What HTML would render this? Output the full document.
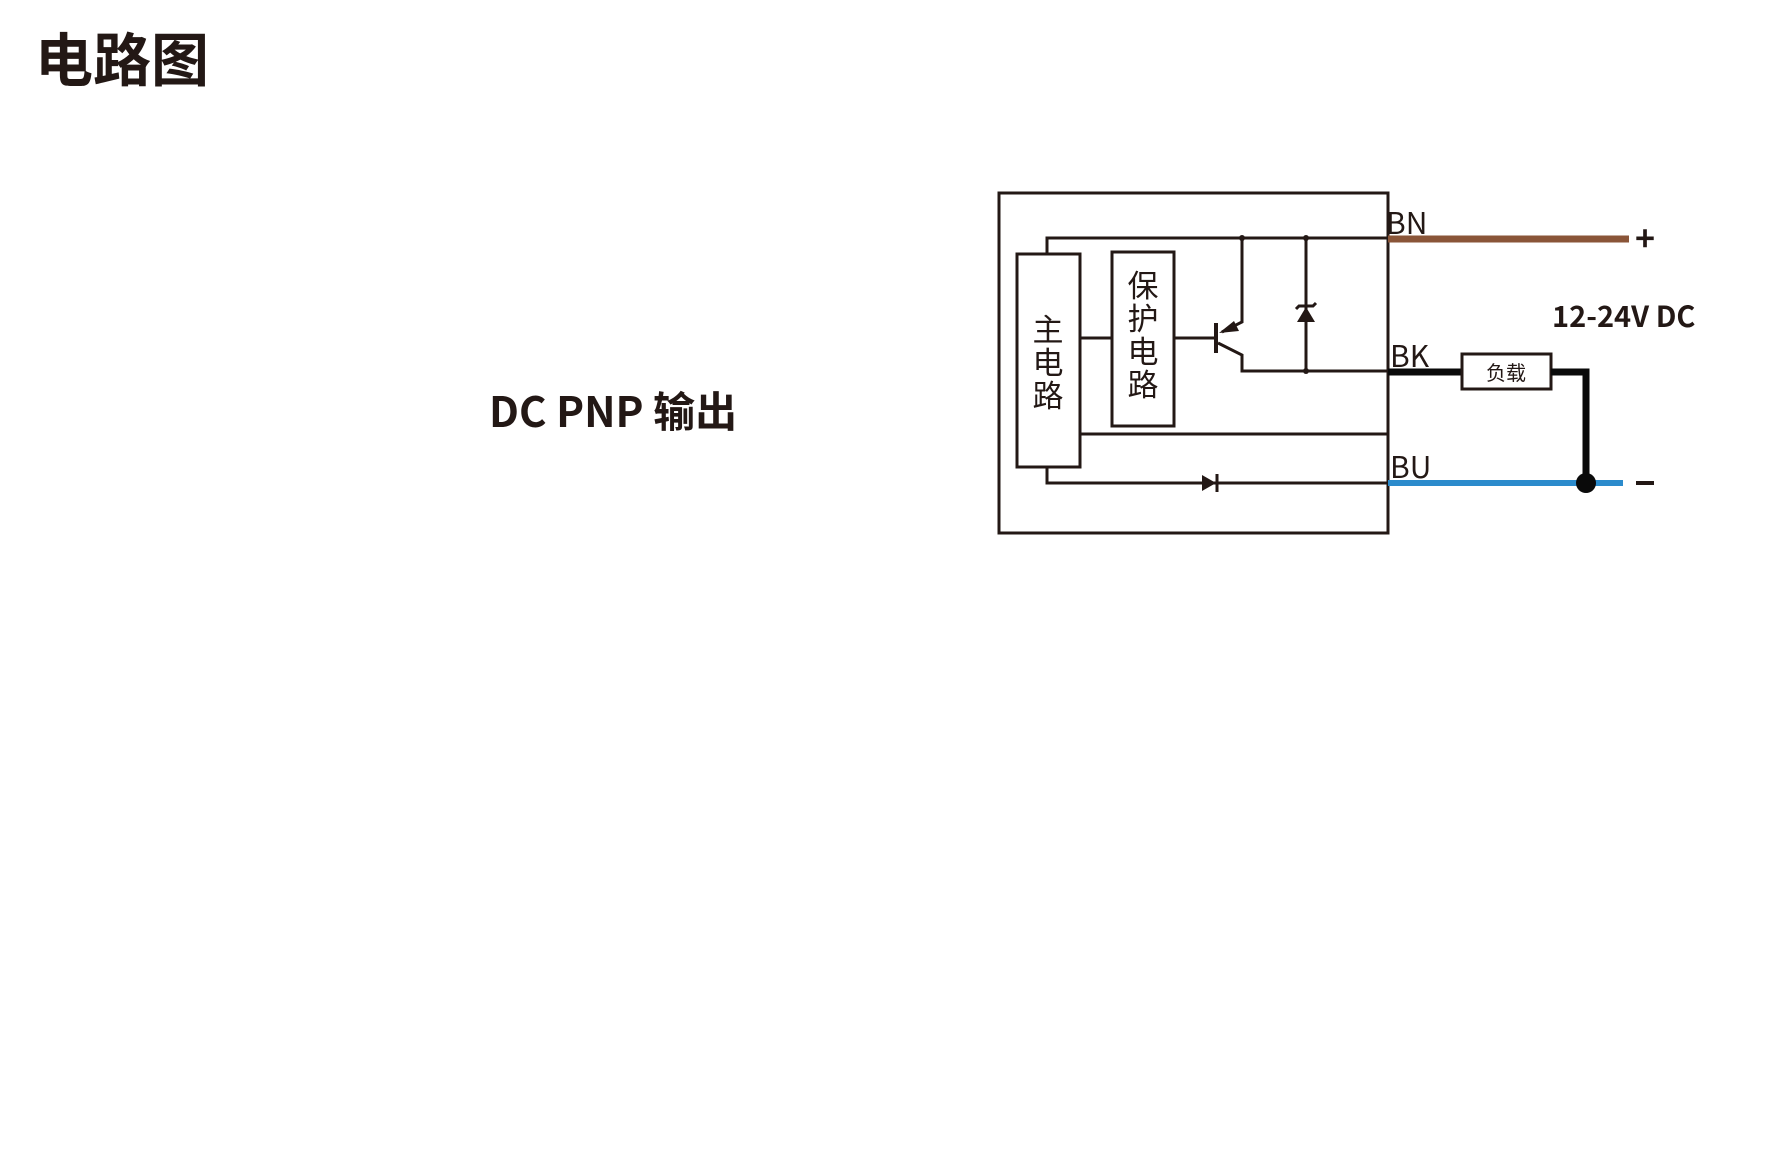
<!DOCTYPE html>
<html><head><meta charset="utf-8"><style>
html,body{margin:0;padding:0;background:#fff;}
svg{display:block;}
text{font-family:"Noto Sans CJK SC","Liberation Sans",sans-serif;fill:#231815;}
</style></head><body>
<svg width="1792" height="1154" viewBox="0 0 1792 1154" xmlns="http://www.w3.org/2000/svg">
<text x="35" y="81" font-size="58" font-weight="bold">电路图</text>
<text x="489" y="427" font-size="42" font-weight="bold">DC PNP 输出</text>

<g stroke="#231815" stroke-width="3" fill="none">
<rect x="999" y="193" width="389" height="340"/>
<rect x="1017" y="254" width="63" height="213"/>
<rect x="1112" y="252" width="62" height="174"/>
<polyline points="1047,254 1047,238 1388,238"/>
<line x1="1080" y1="338" x2="1112" y2="338"/>
<line x1="1174" y1="338" x2="1216" y2="338"/>
<line x1="1216" y1="323" x2="1216" y2="353" stroke-width="4"/>
<polyline points="1242,238 1242,322 1222,332"/>
<polyline points="1218,343 1242,355 1242,371 1388,371"/>
<line x1="1306" y1="238" x2="1306" y2="371"/>
<polyline points="1296,309 1299,306 1313,306 1316,303"/>
<line x1="1080" y1="434" x2="1388" y2="434"/>
<polyline points="1047,467 1047,483 1388,483"/>
<line x1="1217" y1="474" x2="1217" y2="492" stroke-width="3"/>
</g>
<polygon points="1219,333 1234,321 1239,331" fill="#231815"/>
<polygon points="1306,307 1297,322 1315,322" fill="#231815"/>
<polygon points="1202,475 1202,491 1216,483" fill="#231815"/>
<circle cx="1242" cy="238" r="3" fill="#231815"/>
<circle cx="1306" cy="238" r="3" fill="#231815"/>
<circle cx="1306" cy="371" r="3" fill="#231815"/>

<g font-size="31" text-anchor="middle">
<text x="1048" y="341">主</text>
<text x="1048" y="374">电</text>
<text x="1048" y="407">路</text>
<text x="1143" y="297">保</text>
<text x="1143" y="330">护</text>
<text x="1143" y="363">电</text>
<text x="1143" y="396">路</text>
</g>

<g font-size="30">
<text x="1386" y="234">BN</text>
<text x="1390" y="367">BK</text>
<text x="1390" y="478">BU</text>
</g>

<line x1="1388" y1="239" x2="1629" y2="239" stroke="#8a5538" stroke-width="7"/>
<line x1="1388" y1="483" x2="1623" y2="483" stroke="#2b8bcc" stroke-width="6"/>
<line x1="1388" y1="372" x2="1462" y2="372" stroke="#0a0a0a" stroke-width="7"/>
<rect x="1462" y="354" width="89" height="35" fill="#fff" stroke="#231815" stroke-width="3"/>
<text x="1506" y="380" font-size="20" text-anchor="middle">负载</text>
<polyline points="1551,372 1586,372 1586,483" fill="none" stroke="#0a0a0a" stroke-width="7"/>
<circle cx="1586" cy="483" r="10" fill="#0a0a0a"/>
<text x="1645" y="251" font-size="34" font-weight="bold" text-anchor="middle">+</text>
<rect x="1636" y="481" width="18" height="4" fill="#231815"/>
<text x="1552" y="327" font-size="29" font-weight="bold">12-24V DC</text>
</svg>
</body></html>
